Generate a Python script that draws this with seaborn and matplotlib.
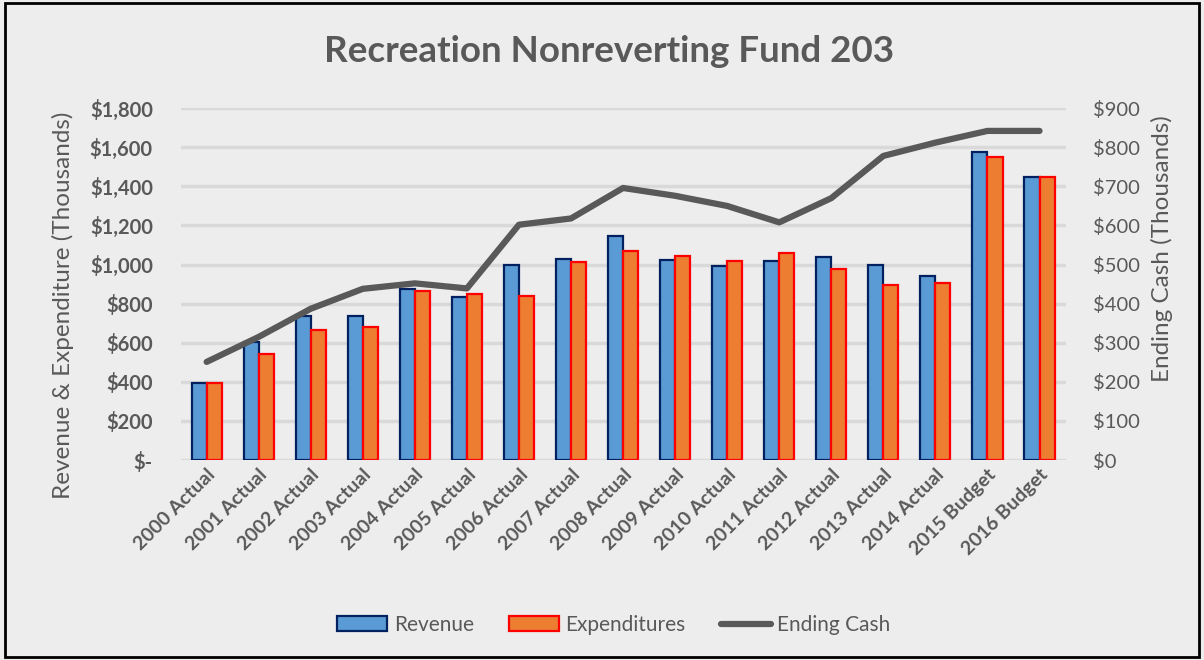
import numpy as np
import pandas as pd
import matplotlib
matplotlib.use("Agg")
import matplotlib.pyplot as plt
import seaborn as sns
from matplotlib.patches import Patch
from matplotlib.lines import Line2D
from matplotlib.ticker import FuncFormatter

# --- data (thousands of $) ---
years = ["2000 Actual", "2001 Actual", "2002 Actual", "2003 Actual", "2004 Actual",
         "2005 Actual", "2006 Actual", "2007 Actual", "2008 Actual", "2009 Actual",
         "2010 Actual", "2011 Actual", "2012 Actual", "2013 Actual", "2014 Actual",
         "2015 Budget", "2016 Budget"]
revenue = [395, 604, 736, 735, 876, 835, 1000, 1031, 1144, 1024,
           995, 1020, 1037, 1000, 944, 1577, 1446]
expenditures = [393, 544, 667, 682, 866, 847, 837, 1015, 1070, 1044,
                1020, 1061, 976, 893, 906, 1548, 1446]
ending_cash = [251, 315, 387, 438, 452, 439, 602, 618, 696, 676,
               650, 608, 670, 778, 812, 842, 842]

BG = "#EDEDED"
TXT = "#595959"
GRID = "#D9D9D9"
C_REV, E_REV = "#5B9BD5", "#002060"
C_EXP, E_EXP = "#ED7D31", "#FF0000"
C_LINE = "#595959"

sns.set_theme(style="white")
plt.rcParams["font.family"] = ["Lato", "DejaVu Sans"]

df = pd.DataFrame({"year": years * 2,
                   "value": revenue + expenditures,
                   "series": ["Revenue"] * len(years) + ["Expenditures"] * len(years)})

fig = plt.figure(figsize=(12.04, 6.60), dpi=100, facecolor=BG)
ax = fig.add_axes([0.150, 0.303, 0.735, 0.533])
ax.set_facecolor(BG)

sns.barplot(data=df, x="year", y="value", hue="series", order=years,
            hue_order=["Revenue", "Expenditures"], saturation=1,
            palette=[C_REV, C_EXP], width=0.58, gap=0, ax=ax, legend=False)
for cont, ec in zip(ax.containers, [E_REV, E_EXP]):
    for bar in cont:
        bar.set_edgecolor(ec)
        bar.set_linewidth(1.6)

ax.set_ylim(0, 1800)
ax.set_xlim(-0.5, len(years) - 0.5)
ax.set_yticks(np.arange(0, 1801, 200))
ax.yaxis.set_major_formatter(FuncFormatter(lambda v, p: "$-" if v == 0 else f"${v:,.0f}"))
ax.grid(axis="y", color=GRID, linewidth=2.5)
ax.set_axisbelow(True)
for s in ax.spines.values():
    s.set_visible(False)
ax.tick_params(axis="y", length=0, colors=TXT, labelsize=14.5, pad=20)
ax.tick_params(axis="x", length=0, colors=TXT, pad=4)
for lbl in ax.get_yticklabels():
    lbl.set_fontweight("bold")
ax.set_xticks(range(len(years)))
ax.set_xticklabels(years, rotation=45, ha="right", rotation_mode="anchor",
                   fontweight="bold", fontsize=14, color=TXT)
ax.set_xlabel("")
ax.set_ylabel("Revenue & Expenditure (Thousands)", fontsize=17.5, color=TXT)
ax.yaxis.set_label_coords(-0.120, 0.44)

ax2 = ax.twinx()
sns.lineplot(x=np.arange(len(years)), y=ending_cash, ax=ax2, color=C_LINE,
             linewidth=4.5, solid_capstyle="round")
ax2.set_ylim(0, 900)
ax2.set_yticks(np.arange(0, 901, 100))
ax2.yaxis.set_major_formatter(FuncFormatter(lambda v, p: f"${v:,.0f}"))
ax2.tick_params(axis="y", length=0, colors=TXT, labelsize=14.5, pad=20)
for s in ax2.spines.values():
    s.set_visible(False)
ax2.set_ylabel("Ending Cash (Thousands)", fontsize=17.5, color=TXT)
ax2.yaxis.set_label_coords(1.097, 0.602)

fig.text(0.506, 0.922, "Recreation Nonreverting Fund 203", ha="center", va="center",
         fontsize=26.5, fontweight="bold", color=TXT)

handles = [Patch(facecolor=C_REV, edgecolor=E_REV, linewidth=1.6, label="Revenue"),
           Patch(facecolor=C_EXP, edgecolor=E_EXP, linewidth=1.6, label="Expenditures"),
           Line2D([0], [0], color=C_LINE, linewidth=4.5, label="Ending Cash")]
leg = fig.legend(handles=handles, loc="center", bbox_to_anchor=(0.51, 0.053), ncol=3,
                 frameon=False, fontsize=15, handlelength=2.4, handleheight=0.75,
                 columnspacing=1.7, handletextpad=0.3)
for t in leg.get_texts():
    t.set_color(TXT)

fig.add_artist(plt.Rectangle((0.004, 0.004), 0.992, 0.992, transform=fig.transFigure,
                             fill=False, edgecolor="black", linewidth=2))

fig.savefig("out.png", dpi=100, facecolor=BG)
